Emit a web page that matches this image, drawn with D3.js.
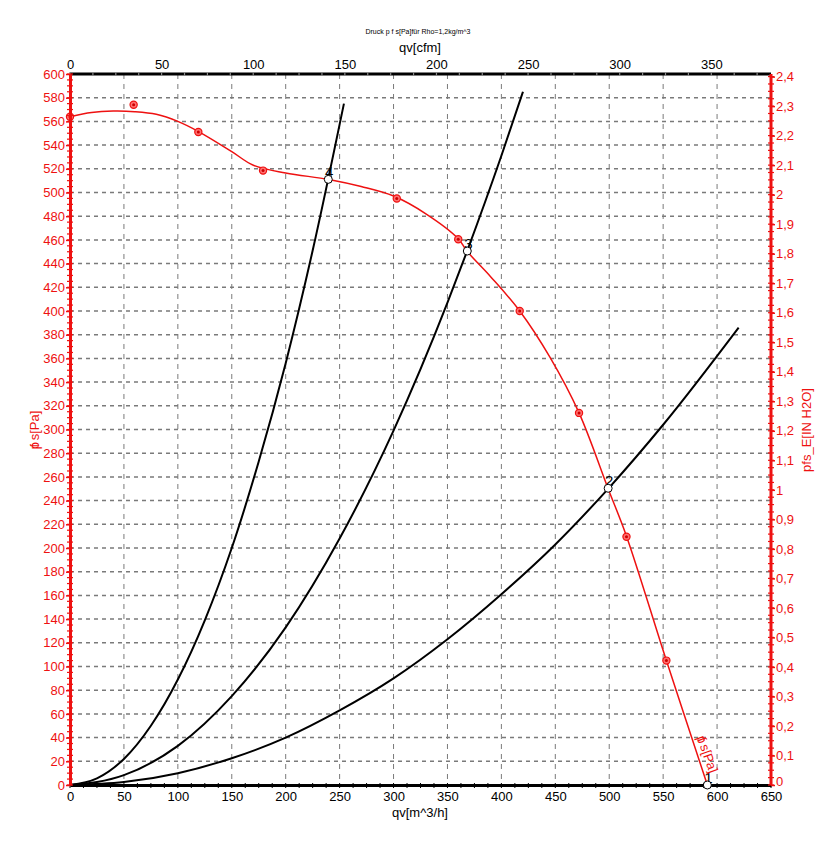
<!DOCTYPE html>
<html><head><meta charset="utf-8">
<script src="https://cdn.jsdelivr.net/npm/d3@7/dist/d3.min.js"></script>
<style>
html,body{margin:0;padding:0;background:#fff;}
svg{display:block;font-family:"Liberation Sans",Arial,sans-serif;}
</style></head>
<body>
<svg id="c" width="832" height="855"></svg>
<script>
// ---- data ----
const title = "Druck p f s[Pa]für Rho=1,2kg/m^3";
const xTicksM3h = [0,50,100,150,200,250,300,350,400,450,500,550,600,650];
const xTicksCfm = [0,50,100,150,200,250,300,350];
const yTicksPa = [0,20,40,60,80,100,120,140,160,180,200,220,240,260,280,300,320,340,360,380,400,420,440,460,480,500,520,540,560,580,600];
const yTicksInH2O = [0,0.1,0.2,0.3,0.4,0.5,0.6,0.7,0.8,0.9,1,1.1,1.2,1.3,1.4,1.5,1.6,1.7,1.8,1.9,2,2.1,2.2,2.3,2.4];

// fan curve (red line)
const fanQ = [0, 20, 40, 60, 80, 100, 120, 150, 170, 200, 240, 270, 300, 330, 360, 368, 390, 417, 445, 472, 499, 516, 553, 591];
const fanP = [564, 567.5, 568.7, 568.2, 566, 560, 551, 534.5, 523, 516.5, 511, 505, 497, 482, 461, 450.6, 429, 400, 361, 314, 250, 210, 105, 0];
// measured points (red markers)
const measQ = [0, 59, 119, 179, 303, 360, 417, 472, 516, 553];
const measP = [564, 574, 551, 518.5, 495, 460.5, 400, 314, 209.5, 105];

// system curves (black)
const sys4Q = [0, 25, 50, 75, 100, 125, 150, 175, 200, 225, 254];
const sys4P = [0, 5.6, 22, 50, 89, 139, 200, 273, 356, 451, 575];
const sys3Q = [0, 50, 100, 150, 200, 250, 300, 350, 368, 400, 420];
const sys3P = [0, 8.3, 33, 75, 133, 208, 299, 407, 450, 531, 585];
const sys2Q = [0, 50, 100, 150, 200, 250, 300, 350, 400, 450, 500, 550, 620];
const sys2P = [0, 2.5, 10, 22.6, 40, 63, 90, 123, 161, 203, 251, 304, 386];

// operating points
const opLabels = ["1", "2", "3", "4"];
const opQ = [591, 499, 368.4, 239.5];
const opP = [0, 250.4, 450.6, 511.1];

// ---- drawing ----
const svg = d3.select("#c");
const RED = "#ee1111";
const x = d3.scaleLinear().domain([0, 650]).range([70, 771]);
const xc = d3.scaleLinear().domain([0, 650 / 1.69901]).range([70, 771]);
const y = d3.scaleLinear().domain([0, 600]).range([785, 74]);
const yr = d3.scaleLinear().domain([0, 600 / 249.089]).range([785, 74]);

// grid
const grid = svg.append("g");
grid.selectAll("line.h").data(yTicksPa.filter(v => v > 0 && v < 600)).join("line")
  .attr("x1", x(0)).attr("x2", x(650)).attr("y1", d => y(d)).attr("y2", d => y(d))
  .attr("stroke", "#7a7a7a").attr("stroke-width", 1.5).attr("stroke-dasharray", "4,4");
grid.selectAll("line.v").data(xTicksM3h.filter(v => v > 0 && v < 650)).join("line")
  .attr("x1", d => x(d)).attr("x2", d => x(d)).attr("y1", y(600)).attr("y2", y(0))
  .attr("stroke", "#7a7a7a").attr("stroke-width", 1).attr("stroke-dasharray", "5,5");

// system curves
const line = d3.line().x(d => x(d[0])).y(d => y(d[1])).curve(d3.curveMonotoneX);
[[sys4Q, sys4P], [sys3Q, sys3P], [sys2Q, sys2P]].forEach(([q, p]) => {
  svg.append("path").datum(q.map((v, i) => [v, p[i]])).attr("d", line)
    .attr("fill", "none").attr("stroke", "#000").attr("stroke-width", 2);
});

// fan curve
const fanLine = d3.line().x(d => x(d[0])).y(d => y(d[1])).curve(d3.curveCatmullRom.alpha(0.5));
svg.append("path").datum(fanQ.map((v, i) => [v, fanP[i]])).attr("d", fanLine)
  .attr("fill", "none").attr("stroke", RED).attr("stroke-width", 1.5);

// measured markers
const mk = svg.append("g").selectAll("g").data(measQ.map((v, i) => [v, measP[i]])).join("g")
  .attr("transform", d => `translate(${x(d[0])},${y(d[1])})`);
mk.append("circle").attr("r", 3.6).attr("fill", "#ff7070").attr("stroke", RED).attr("stroke-width", 1.2);
mk.append("circle").attr("r", 1.5).attr("fill", "#cc0000");

// axes
function styleAxis(g, color, width) {
  g.select(".domain").attr("stroke", color).attr("stroke-width", width);
  g.selectAll(".tick line").attr("stroke", color);
  g.selectAll(".tick text").attr("fill", color).attr("font-size", 13)
    .attr("font-family", '"Liberation Sans",Arial,sans-serif');
}
// bottom
const gb = svg.append("g").attr("transform", `translate(0,${y(0)})`)
  .call(d3.axisBottom(x).tickValues(xTicksM3h).tickSize(0).tickPadding(7).tickSizeOuter(0));
styleAxis(gb, "#000", 3);
svg.append("g").selectAll("line").data(d3.range(0, 650.1, 12.5)).join("line")
  .attr("x1", d => x(d)).attr("x2", d => x(d)).attr("y1", y(0) - 2).attr("y2", y(0) + 3)
  .attr("stroke", "#000").attr("stroke-width", 1);
// top
const gt = svg.append("g").attr("transform", `translate(0,${y(600)})`)
  .call(d3.axisTop(xc).tickValues(xTicksCfm).tickSize(0).tickPadding(5).tickSizeOuter(0));
styleAxis(gt, "#000", 3);
gt.select(".domain").attr("d", `M${x(0)},0H${x(650)}`);
svg.append("g").selectAll("line").data(d3.range(0, 375.1, 12.5)).join("line")
  .attr("x1", d => xc(d)).attr("x2", d => xc(d)).attr("y1", y(600) - 2).attr("y2", y(600) + 2)
  .attr("stroke", "#888").attr("stroke-width", 1.2);
// left
const gl = svg.append("g").attr("transform", `translate(${x(0)},0)`)
  .call(d3.axisLeft(y).tickValues(yTicksPa).tickSize(4).tickPadding(1).tickSizeOuter(0));
styleAxis(gl, RED, 3);
gl.selectAll(".tick line").attr("stroke-width", 1.5);
svg.append("g").selectAll("line").data(d3.range(0, 600.1, 5)).join("line")
  .attr("x1", x(0) - 3).attr("x2", x(0) + 3).attr("y1", d => y(d)).attr("y2", d => y(d))
  .attr("stroke", RED).attr("stroke-width", 1.2);
// right
const gr = svg.append("g").attr("transform", `translate(${x(650)},0)`)
  .call(d3.axisRight(yr).tickValues(yTicksInH2O).tickSize(4).tickPadding(1).tickSizeOuter(0)
    .tickFormat(d => String(+d.toFixed(1)).replace(".", ",")));
styleAxis(gr, RED, 3);
gr.select(".domain").attr("d", `M0,${y(0)}V${y(600)}`);
gr.selectAll(".tick line").attr("stroke-width", 1.5);
gr.selectAll(".tick text").filter(d => d === 0).attr("dy", "0.05em");
svg.append("g").selectAll("line").data(d3.range(0, 2.4001, 0.025)).join("line")
  .attr("x1", x(650) - 3).attr("x2", x(650) + 3).attr("y1", d => yr(d)).attr("y2", d => yr(d))
  .attr("stroke", RED).attr("stroke-width", 1.2);

// operating points
const op = svg.append("g").selectAll("g").data(opQ.map((v, i) => [v, opP[i], opLabels[i]])).join("g")
  .attr("transform", d => `translate(${x(d[0])},${y(d[1])})`);
op.append("text").attr("x", 1).attr("y", -2).attr("text-anchor", "middle")
  .attr("font-size", 15).attr("fill", "#000").text(d => d[2]);
op.append("circle").attr("r", 4).attr("fill", "#fff").attr("stroke", "#000").attr("stroke-width", 1);

// titles
svg.append("text").attr("x", 418).attr("y", 34).attr("text-anchor", "middle")
  .attr("font-size", 7).attr("fill", "#000").text(title);
svg.append("text").attr("x", 420).attr("y", 52).attr("text-anchor", "middle")
  .attr("font-size", 13).attr("fill", "#000").text("qv[cfm]");
svg.append("text").attr("x", 420).attr("y", 817).attr("text-anchor", "middle")
  .attr("font-size", 13).attr("fill", "#000").text("qv[m^3/h]");
const ll = svg.append("text").attr("transform", "translate(39,430) rotate(-90)").attr("text-anchor", "middle")
  .attr("font-size", 13).attr("fill", RED);
ll.append("tspan").text("p");
ll.append("tspan").attr("dx", "-0.42em").text("f");
ll.append("tspan").text(" s[Pa]");
svg.append("text").attr("transform", "translate(811,430) rotate(-90)").attr("text-anchor", "middle")
  .attr("font-size", 13).attr("fill", RED).text("pfs_E[IN H2O]");
const cl = svg.append("text").attr("transform", `translate(${x(581)},${y(40)}) rotate(70)`)
  .attr("font-size", 13).attr("fill", RED);
cl.append("tspan").text("p");
cl.append("tspan").attr("dx", "-0.42em").text("f");
cl.append("tspan").text(" s[Pa]");
</script>
</body></html>
